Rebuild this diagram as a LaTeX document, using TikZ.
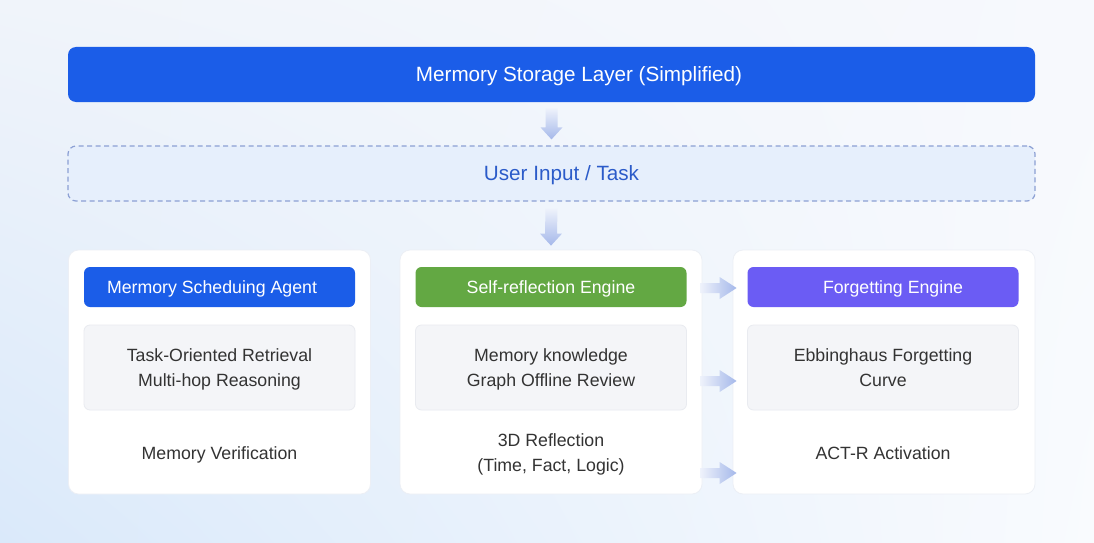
\documentclass[tikz,border=0pt]{standalone}
\usepackage{fontspec}
\setmainfont{Liberation Sans}
\usetikzlibrary{calc,shadings}

\newdimen\pxu \pxu=0.75pt

\definecolor{barblue}{HTML}{1B5DE8}
\definecolor{leafgreen}{HTML}{63A843}
\definecolor{forgetpurple}{HTML}{6B5CF4}
\definecolor{dashfill}{HTML}{E6EFFC}
\definecolor{dashline}{HTML}{8CA0D4}
\definecolor{inputtext}{HTML}{2B5BC9}
\definecolor{boxgray}{HTML}{F4F5F8}
\definecolor{boxedge}{HTML}{E9EBF0}
\definecolor{cardedge}{HTML}{ECEFF5}
\definecolor{bodytext}{HTML}{333333}
\definecolor{arrowpale}{HTML}{EEF2FB}
\definecolor{arrowdeep}{HTML}{A5B8EA}
\definecolor{bgtopleft}{HTML}{F0F4FA}
\definecolor{bgbottomleft}{HTML}{DAE9FA}
\definecolor{bgtopright}{HTML}{F7F9FD}
\definecolor{bgbottomright}{HTML}{F9FBFE}

\tikzset{
  layer/.style={rounded corners=8\pxu, minimum width=967\pxu, minimum height=55\pxu,
    inner sep=0pt, text depth=0pt, font=\fontsize{15.5}{18}\selectfont},
  storebar/.style={layer, fill=barblue, text=white},
  inputbar/.style={layer, fill=dashfill, draw=dashline, line width=1.2\pxu,
    dash pattern=on 5\pxu off 3.5\pxu, text=inputtext},
  card/.style={rounded corners=10\pxu, fill=white, draw=cardedge, line width=0.8\pxu,
    minimum width=302\pxu, minimum height=244\pxu, inner sep=0pt},
  headbar/.style={rounded corners=6\pxu, minimum width=271\pxu, minimum height=40\pxu,
    inner sep=0pt, text depth=0pt, text=white, font=\fontsize{13.3}{16}\selectfont},
  graybox/.style={rounded corners=6\pxu, fill=boxgray, draw=boxedge, line width=0.8\pxu,
    minimum width=271\pxu, minimum height=85\pxu, inner sep=0pt, align=center,
    text depth=0pt, text=bodytext, font=\fontsize{13.3}{18.75}\selectfont},
  plaintext/.style={align=center, inner sep=0pt, text depth=0pt, text=bodytext,
    font=\fontsize{13.3}{18.75}\selectfont}
}

% fat shaded arrows, from a start point to the tip
\newcommand\downflow[2]{%
  \shade[top color=arrowpale, bottom color=arrowdeep]
    ($(#1)+(-6,0)$) -- ($(#2)+(-6,-12)$) -- ($(#2)+(-11,-12)$) -- (#2)
    -- ($(#2)+(11,-12)$) -- ($(#2)+(6,-12)$) -- ($(#1)+(6,0)$) -- cycle;}
\newcommand\rightflow[2]{%
  \shade[left color=arrowpale, right color=arrowdeep]
    ($(#1)+(0,-5)$) -- ($(#2)+(-17,-5)$) -- ($(#2)+(-17,-11)$) -- (#2)
    -- ($(#2)+(-17,11)$) -- ($(#2)+(-17,5)$) -- ($(#1)+(0,5)$) -- cycle;}

\begin{document}
\begin{tikzpicture}[x=0.75pt, y=-0.75pt]
  \useasboundingbox (0,0) rectangle (1094,542);
  \shade[upper left=bgtopleft, lower left=bgbottomleft,
         upper right=bgtopright, lower right=bgbottomright]
    (0,0) rectangle (1094,542);

  \node [storebar] (store) at (551.5,74.5) {\hspace*{55\pxu}Mermory Storage Layer (Simplified)};
  \node [inputbar] (input) at (551.5,173.5) {\hspace*{20\pxu}User Input / Task};

  \node [card] (card1) at (219.5,372) {};
  \node [card] (card2) at (551,372) {};
  \node [card] (card3) at (884,372) {};

  \node [headbar, fill=barblue] (head1) at (219.5,287) {Mermory Scheduing Agent\hspace*{15\pxu}};
  \node [headbar, fill=leafgreen] (head2) at (551,287) {Self-reflection Engine};
  \node [headbar, fill=forgetpurple] (head3) at (883,287) {\hspace*{20\pxu}Forgetting Engine};

  \node [graybox] (body1) at (219.5,367.5) {Task-Oriented Retrieval\\Multi-hop Reasoning};
  \node [graybox] (body2) at (551,367.5) {Memory knowledge\\Graph Offline Review};
  \node [graybox] (body3) at (883,367.5) {Ebbinghaus Forgetting\\Curve};

  \node [plaintext] (foot1) at (219.5,453) {Memory Verification};
  \node [plaintext] (foot2) at (551,453) {3D Reflection\\(Time, Fact, Logic)};
  \node [plaintext] (foot3) at (883,453) {ACT-R Activation};

  % vertical flow
  \coordinate (d1) at ($(store.south)+(0,6)$);
  \coordinate (e1) at ($(input.north)+(0,-6)$);
  \coordinate (d2) at ($(input.south)+(0,7)$);
  \coordinate (e2) at ($(card2.north)+(0,-4)$);
  \downflow{d1}{e1}
  \downflow{d2}{e2}

  % reflection -> forgetting
  \coordinate (r1) at (0,288);
  \coordinate (r2) at (0,381);
  \coordinate (r3) at (0,473);
  \foreach \row in {1,2,3} {
    \coordinate (a\row) at ($(card2.east |- r\row)+(-2,0)$);
    \coordinate (b\row) at ($(card3.west |- r\row)+(4,0)$);
    \rightflow{a\row}{b\row}
  }
\end{tikzpicture}
\end{document}
